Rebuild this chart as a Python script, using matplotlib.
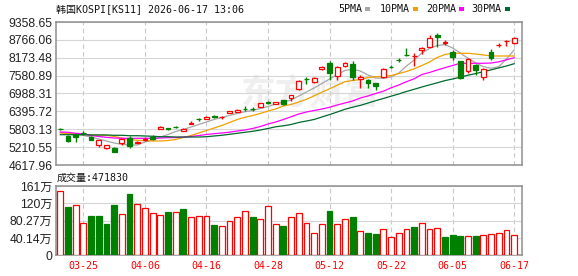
import matplotlib
matplotlib.use("Agg")
import matplotlib.pyplot as plt
from matplotlib.patches import Rectangle
import numpy as np

# KOSPI daily candles, 60 sessions (index points)
opens = [5818, 5589, 5646, 5686, 5546, 5291, 5192, 5172, 5338, 5503,
         5361, 5460, 5556, 5822, 5828, 5885, 5755, 5977, 6140, 6153,
         6226, 6193, 6342, 6365, 6491, 6491, 6551, 6690, 6630, 6763,
         6829, 7128, 7476, 7370, 7811, 8009, 7569, 7910, 7956, 7469,
         7436, 7327, 7525, 7874, 8106, 8271, 8215, 8430, 8540, 8928,
         8676, 8374, 8066, 7744, 7933, 7545, 8354, 8586, 8719, 8672]
closes = [5805, 5424, 5546, 5669, 5457, 5437, 5271, 5059, 5470, 5258,
          5381, 5480, 5480, 5888, 5815, 5871, 5812, 6011, 6127, 6219,
          6213, 6209, 6408, 6441, 6475, 6478, 6664, 6677, 6707, 6630,
          6939, 7413, 7462, 7512, 7857, 7678, 7857, 7990, 7525, 7545,
          7327, 7237, 7811, 7860, 8092, 8258, 8238, 8507, 8838, 8851,
          8696, 8208, 7512, 8122, 7767, 7791, 8175, 8606, 8739, 8828]
highs = [5845, 5613, 5662, 5745, 5570, 5447, 5281, 5215, 5480, 5589,
         5414, 5530, 5596, 5911, 5861, 5911, 5835, 6077, 6176, 6233,
         6276, 6243, 6418, 6485, 6574, 6541, 6673, 6730, 6717, 6773,
         6949, 7426, 7545, 7525, 7890, 8076, 7900, 8023, 8056, 7612,
         7459, 7336, 7824, 7923, 8155, 8487, 8321, 8520, 8928, 8984,
         8762, 8430, 8076, 8155, 7966, 7824, 8454, 8653, 8762, 8871]
lows = [5778, 5391, 5391, 5629, 5437, 5215, 5149, 5039, 5281, 5172,
        5331, 5414, 5447, 5812, 5778, 5845, 5735, 5967, 6087, 6143,
        6160, 6153, 6332, 6359, 6398, 6418, 6541, 6640, 6624, 6617,
        6750, 7114, 7303, 7327, 7777, 7436, 7436, 7867, 7436, 7181,
        7181, 7104, 7512, 7824, 8043, 8248, 7900, 8308, 8530, 8540,
        8596, 8099, 7479, 7658, 7602, 7436, 8099, 8540, 8563, 8629]

# moving averages as shown on the chart
ma5 = [5696, 5662, 5636, 5596, 5546, 5480, 5414, 5347, 5304, 5281,
       5281, 5381, 5447, 5546, 5629, 5729, 5795, 5878, 5961, 6044,
       6127, 6193, 6259, 6325, 6385, 6425, 6491, 6557, 6640, 6707,
       6773, 6906, 7038, 7171, 7320, 7469, 7618, 7751, 7791, 7734,
       7602, 7502, 7492, 7535, 7668, 7900, 8099, 8331, 8480, 8580,
       8613, 8497, 8331, 8155, 8000, 7877, 7824, 7877, 8132, 8430]
ma10 = [5679, 5662, 5646, 5629, 5613, 5613, 5603, 5563, 5513, 5464,
        5437, 5424, 5414, 5414, 5430, 5464, 5530, 5596, 5679, 5762,
        5845, 5928, 6027, 6127, 6199, 6259, 6325, 6408, 6475, 6574,
        6624, 6707, 6796, 6912, 7032, 7144, 7264, 7380, 7419, 7453,
        7519, 7545, 7545, 7585, 7651, 7718, 7807, 7917, 8033, 8182,
        8281, 8321, 8321, 8321, 8298, 8265, 8232, 8232, 8232, 8232]
ma20 = [5712, 5702, 5669, 5656, 5596, 5563, 5536, 5513, 5503, 5503,
        5503, 5503, 5503, 5513, 5523, 5530, 5540, 5563, 5596, 5629,
        5656, 5679, 5706, 5745, 5778, 5828, 5894, 5977, 6044, 6127,
        6216, 6309, 6375, 6425, 6475, 6531, 6607, 6673, 6740, 6839,
        6906, 6988, 7065, 7177, 7270, 7380, 7476, 7618, 7685, 7767,
        7844, 7917, 7990, 7990, 7990, 7990, 7999, 8039, 8106, 8175]
ma30 = [5623, 5623, 5623, 5623, 5613, 5613, 5613, 5603, 5603, 5589,
        5589, 5580, 5570, 5556, 5556, 5546, 5546, 5546, 5546, 5556,
        5580, 5603, 5636, 5669, 5702, 5735, 5778, 5828, 5885, 5918,
        5961, 6027, 6077, 6127, 6209, 6289, 6375, 6465, 6534, 6594,
        6673, 6750, 6823, 6899, 6972, 7055, 7128, 7204, 7274, 7343,
        7416, 7469, 7529, 7595, 7648, 7711, 7771, 7837, 7900, 7976]

# volume in 万 (10k); 1 = red (up vs previous close), 0 = green
volumes = [148.6, 112.2, 116.1, 74.3, 91.3, 91.3, 72.8, 116.9, 96.0, 142.4,
           118.4, 109.9, 98.3, 92.9, 100.6, 100.6, 107.6, 88.2, 90.6, 90.6,
           70.4, 67.3, 79.7, 88.2, 102.9, 89.0, 83.6, 113.8, 72.0, 68.1,
           88.2, 97.5, 74.3, 51.1, 72.0, 103.0, 72.0, 83.6, 89.0, 55.7,
           51.9, 49.5, 60.4, 41.8, 51.1, 60.4, 65.8, 74.3, 60.4, 62.7,
           42.6, 47.2, 44.9, 44.1, 44.9, 46.4, 48.8, 51.1, 58.8, 47.18]
vol_up = [1, 0, 1, 1, 0, 0, 0, 0, 1, 0, 1, 1, 1, 1, 0, 1, 0, 1, 1, 1,
          0, 1, 1, 1, 1, 0, 1, 1, 1, 0, 1, 1, 1, 1, 1, 0, 1, 1, 0, 1,
          0, 0, 1, 1, 1, 1, 0, 1, 1, 1, 0, 0, 0, 1, 0, 1, 1, 1, 1, 1]

date_idx = [3, 11, 19, 27, 35, 43, 51, 59]
date_labels = ["03-25", "04-06", "04-16", "04-28", "05-12", "05-22", "06-05", "06-17"]

price_ticks = [4617.96, 5210.55, 5803.13, 6395.72, 6988.31, 7580.89, 8173.48, 8766.06, 9358.65]
vol_ticks = [0, 40.14, 80.27, 120.41, 160.55]
vol_tick_labels = ["0", "40.14万", "80.27万", "120万", "161万"]

RED = "#ff0000"
GREEN = "#008000"
MA_COLORS = ["#a6a6a6", "#f0a000", "#ff00ff", "#006a2e"]
MONO = ["DejaVu Sans Mono", "Noto Sans CJK SC"]
SANS = ["Liberation Sans", "Noto Sans CJK SC"]

W, H = 578, 276
fig = plt.figure(figsize=(W / 100, H / 100), dpi=100)


def fx(px):
    return px / W


def fy(py):
    return 1 - py / H


ax = fig.add_axes([fx(56), fy(165), fx(522) - fx(56), fy(22) - fy(165)])
axv = fig.add_axes([fx(56), fy(255.3), fx(522) - fx(56), fy(186) - fy(255.3)])

x = np.arange(len(closes))
o = np.array(opens, float)
c = np.array(closes, float)
hi = np.array(highs, float)
lo = np.array(lows, float)
up = c >= o
body_lo = np.minimum(o, c)
body_hi = np.maximum(o, c)
cols = np.where(up, RED, GREEN)

# candles
ax.vlines(x, lo, body_lo, colors=cols, lw=1, zorder=3)
ax.vlines(x, body_hi, hi, colors=cols, lw=1, zorder=3)
ax.bar(x, body_hi - body_lo, bottom=body_lo, width=0.62,
       facecolor=np.where(up, "white", GREEN), edgecolor=cols, lw=0.9, zorder=4)

for ma, col in zip([ma5, ma10, ma20, ma30], MA_COLORS):
    ax.plot(x, ma, color=col, lw=0.9, zorder=2)

# watermark
ax.text(0.545, 0.5, "东方财富", transform=ax.transAxes, ha="center", va="center",
        fontsize=25, fontweight="bold", color="#efefef", family="Noto Sans CJK SC", zorder=0.5)

ax.set_xlim(-0.56, 60.02)
ax.set_ylim(price_ticks[0], price_ticks[-1])
ax.set_yticks(price_ticks)
ax.set_yticklabels([f"{v:.2f}" for v in price_ticks], family=SANS, fontsize=8.7, color="#222222")
ax.set_xticks(date_idx)
ax.tick_params(length=0, pad=2.5, labelbottom=False)

# volume bars
vcols = [RED if u else GREEN for u in vol_up]
axv.bar(x, volumes, width=0.76, facecolor=["white" if u else GREEN for u in vol_up],
        edgecolor=vcols, lw=0.9, zorder=3)
axv.set_xlim(-0.56, 60.02)
axv.set_ylim(0, vol_ticks[-1])
axv.set_yticks(vol_ticks)
axv.set_yticklabels(vol_tick_labels, family=SANS, fontsize=8.7, color="#222222")
axv.set_xticks(date_idx)
axv.set_xticklabels(date_labels, family=MONO, fontsize=7.2, color=RED)
axv.tick_params(length=0, pad=2.5)
axv.tick_params(axis="x", pad=4)

for a in (ax, axv):
    a.set_axisbelow(True)
    a.yaxis.grid(True, color="#d6d6d6", lw=0.8)
    a.xaxis.grid(True, color="#c8c8c8", lw=0.8, ls=(0, (4, 3)))
    for s in a.spines.values():
        s.set_color("#8f8f8f")
        s.set_linewidth(1.1)

# header texts
fig.text(fx(56), fy(9.5), "韩国KOSPI[KS11] 2026-06-17 13:06", family=MONO,
         fontsize=7.2, va="center", ha="left", color="#111111")
fig.text(fx(57), fy(178), "成交量:471830", family=MONO, fontsize=7.2,
         va="center", ha="left", color="#111111")

legend_items = [("5PMA", 338, 365), ("10PMA", 380, 412.5), ("20PMA", 426, 458.5), ("30PMA", 471.5, 505)]
for (lab, tx, mx), col in zip(legend_items, MA_COLORS):
    fig.text(fx(tx), fy(9.5), lab, family=MONO, fontsize=7.2, va="center", ha="left", color="#111111")
    fig.add_artist(Rectangle((fx(mx), fy(11)), 5 / W, 4 / H, transform=fig.transFigure,
                             facecolor=col, edgecolor="none"))

fig.savefig("out.png", dpi=100)
